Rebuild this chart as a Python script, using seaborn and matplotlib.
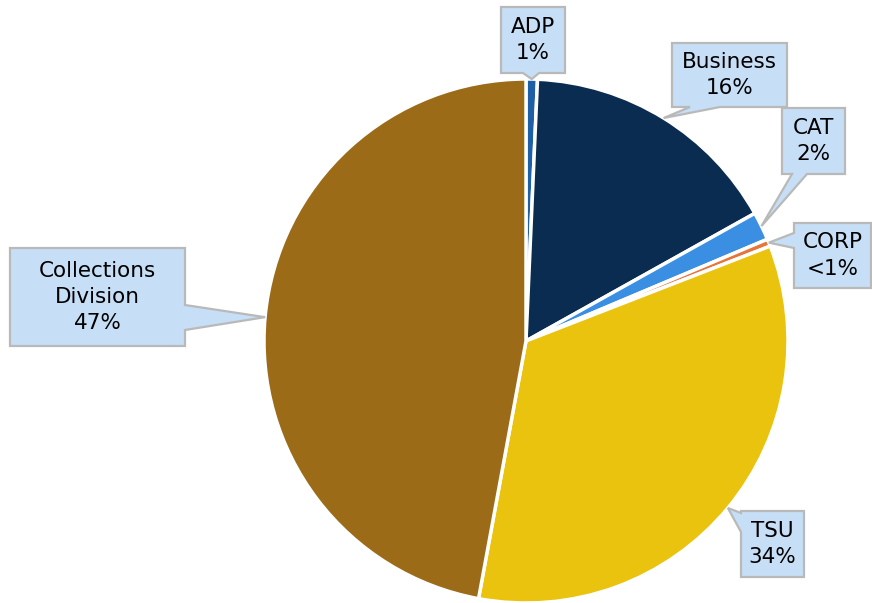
import numpy as np
import matplotlib
matplotlib.use("Agg")
import matplotlib.pyplot as plt
from matplotlib.patches import Polygon
import seaborn as sns

# ---- data ----
categories = ["ADP", "Business", "CAT", "CORP", "TSU", "Collections\nDivision"]
shares = [0.7, 16.2, 1.75, 0.45, 33.8, 47.1]
share_labels = ["1%", "16%", "2%", "<1%", "34%", "47%"]
slice_colors = ["#1f5fa6", "#0a2c50", "#3a8fe3", "#e8743a", "#e9c30d", "#9c6b18"]

sns.set_theme(style="white")
plt.rcParams["font.family"] = ["DejaVu Sans"]

W, H = 872, 603
fig = plt.figure(figsize=(W / 100, H / 100), dpi=100)
ax = fig.add_axes([0, 0, 1, 1])

cx, cy_px, R = 526, 341, 262
center = (cx, H - cy_px)
wedges, _ = ax.pie(shares, colors=sns.color_palette(slice_colors), startangle=90,
                   counterclock=False, center=center, radius=R, frame=True,
                   wedgeprops=dict(edgecolor="white", linewidth=2.5))
ax.set_xlim(0, W)
ax.set_ylim(0, H)
ax.set_aspect("equal")
ax.axis("off")

# callout boxes: (left, top, right, bottom) in px, side of pointer, base range in px
boxes = [
    ((501, 7, 565, 73), "bottom", (523, 539)),
    ((672, 43, 787, 107), "bottom", (690, 720)),
    ((782, 108, 845, 174), "bottom", (792, 807)),
    ((794, 223, 871, 288), "left", (233, 248)),
    ((741, 511, 804, 577), "left", (513, 532)),
    ((10, 248, 185, 346), "right", (305, 330)),
]

for w, cat, lab, (box, side, base) in zip(wedges, categories, share_labels, boxes):
    mid = np.deg2rad((w.theta1 + w.theta2) / 2)
    tip = (center[0] + R * np.cos(mid), center[1] + R * np.sin(mid))
    l, t, r, b = box
    b1, b2 = base
    if side == "bottom":
        pts = [(l, t), (r, t), (r, b), (b2, b), None, (b1, b), (l, b)]
    elif side == "left":
        pts = [(l, t), (r, t), (r, b), (l, b), (l, b2), None, (l, b1)]
    else:
        pts = [(l, t), (r, t), (r, b1), None, (r, b2), (r, b), (l, b)]
    verts = [tip if p is None else (p[0], H - p[1]) for p in pts]
    ax.add_patch(Polygon(verts, closed=True, facecolor="#c6dff6",
                         edgecolor="#b9b9b9", linewidth=1.6, zorder=3))
    ax.text((l + r) / 2, H - (t + b) / 2, f"{cat}\n{lab}", ha="center", va="center",
            fontsize=15.5, color="#000000", linespacing=1.4, zorder=4)

fig.savefig("out.png", dpi=100)
